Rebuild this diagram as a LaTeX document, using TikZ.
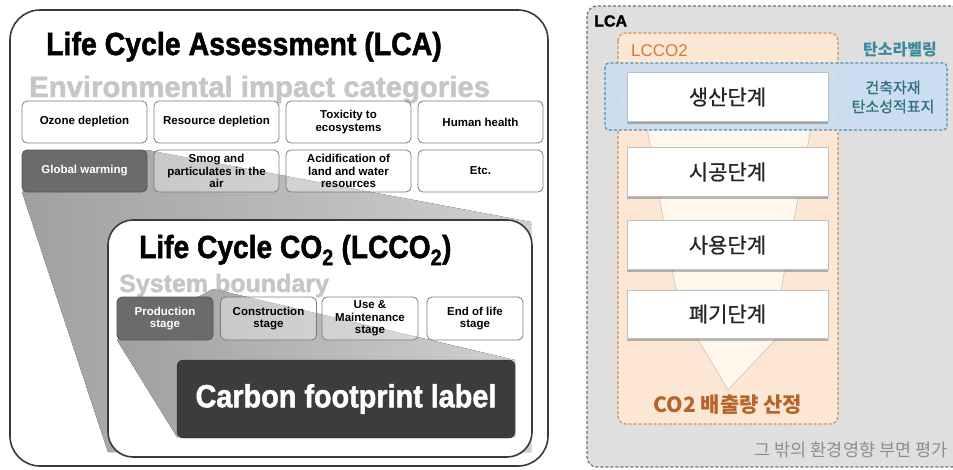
\documentclass[tikz,border=0pt]{standalone}
\usepackage{fontspec}
\setmainfont{Liberation Sans}
\newfontfamily\heavy{Liberation Sans}[BoldFeatures={FakeBold=1.6}]
\newfontfamily\kr{Noto Sans CJK KR}
\newfontfamily\krm{Noto Sans CJK KR}[FakeBold=0.7]
\usetikzlibrary{shadows}
\definecolor{boxline}{HTML}{7A7A7A}
\definecolor{darkbox}{HTML}{6B6B6B}
\definecolor{lblbox}{HTML}{3C3C3C}
\definecolor{headgray}{HTML}{C6C6C6}
\definecolor{framegray}{HTML}{3A3A3A}
\definecolor{panelgray}{HTML}{DFDFDF}
\definecolor{panelline}{HTML}{6E6E6E}
\definecolor{peach}{HTML}{FCE7D4}
\definecolor{orangeline}{HTML}{E08A4A}
\definecolor{orangetxt}{HTML}{D27A3C}
\definecolor{co2txt}{HTML}{B5652C}
\definecolor{bluefill}{HTML}{C9DDF1}
\definecolor{blueline}{HTML}{4A90B8}
\definecolor{tealtxt}{HTML}{3A8C9C}
\definecolor{tealdark}{HTML}{2F6F86}
\definecolor{krgray}{HTML}{8E8E8E}
\definecolor{funnelfill}{HTML}{FFF6EC}
\definecolor{funnelline}{HTML}{D2C6BA}
\definecolor{wedgeA}{HTML}{A0A0A0}
\definecolor{wedgeB}{HTML}{D0D0D0}
\begin{document}
\begin{tikzpicture}[x=1pt,y=-1pt,
  cat/.style={draw=boxline, line width=0.8pt, rounded corners=5pt, fill=white,
    fill opacity=0.35, text opacity=1, minimum width=125pt, minimum height=42pt,
    inner sep=1pt, align=center, font=\bfseries\fontsize{11.5}{12.5}\selectfont},
  catdark/.style={cat, fill=darkbox, fill opacity=1, draw=darkbox!80!black, text=white},
  stagebox/.style={cat, minimum width=96pt, minimum height=43pt},
  stagedark/.style={catdark, minimum width=96pt, minimum height=43pt},
  krbox/.style={draw=black!25, fill=white, minimum width=201pt, minimum height=49pt,
    font=\krm\fontsize{21}{24}\selectfont, text=black!85,
    drop shadow={shadow xshift=0pt, shadow yshift=-2.5pt, opacity=0.45, fill=black!60}},
  frame/.style={draw=framegray, line width=1.6pt},
  dashedframe/.style={dash pattern=on 3pt off 2pt, line width=1.2pt},
]
\useasboundingbox (0,0) rectangle (953,469);
\clip (0,0) rectangle (953,469);

% ================= LEFT PANEL =================
\draw[frame, rounded corners=30pt, fill=white] (10,10) rectangle (548,466);

\node[anchor=base west, inner sep=0pt, font=\heavy\bfseries\fontsize{32}{34}\selectfont] (lcatitle)
  at (46,55) {\scalebox{0.89}[1]{Life Cycle Assessment (LCA)}};
\node[anchor=base west, inner sep=0pt, text=headgray, font=\heavy\bfseries\fontsize{29.3}{30}\selectfont] (envtitle)
  at (29,97) {Environmental impact categories};

% wedge from Global warming to LCCO2
\fill[left color=wedgeA, right color=wedgeB] (22,192) -- (147,150) -- (531,222) -- (531,452) -- (108,452) -- cycle;

% category boxes
\node[cat] (ozone) at (84.5,122) {Ozone depletion};
\node[cat] (resource) at (216.5,122) {Resource depletion};
\node[cat] (toxicity) at (348.5,122) {Toxicity to\\ecosystems};
\node[cat] (health) at (480.5,122) {Human health};
\node[catdark] (global) at (84.5,171) {Global warming};
\node[cat] (smog) at (216.5,171) {Smog and\\particulates in the\\air};
\node[cat] (acid) at (348.5,171) {Acidification of\\land and water\\resources};
\node[cat] (etc) at (480.5,171) {Etc.};

% LCCO2 box
\draw[frame, rounded corners=25pt, fill=white] (108,220) rectangle (532,457);
\node[anchor=base west, inner sep=0pt, font=\heavy\bfseries\fontsize{32}{34}\selectfont] (lccotitle)
  at (139,258) {\scalebox{0.88}[1]{Life Cycle CO\textsubscript{2} (LCCO\textsubscript{2})}};
\node[anchor=base west, inner sep=0pt, text=headgray, font=\heavy\bfseries\fontsize{25}{27}\selectfont] (sysb)
  at (119,292) {System boundary};

% wedge from Production stage to label
\fill[left color=wedgeA, right color=wedgeB] (117,340) -- (213,289) -- (515,360) -- (515,437) -- (177,437) -- cycle;

\node[stagedark] (prod) at (165,318.5) {Production\\stage};
\node[stagebox] (constr) at (268.5,318.5) {Construction\\stage};
\node[stagebox] (use) at (370,318.5) {Use \&\\Maintenance\\stage};
\node[stagebox] (eol) at (475,318.5) {End of life\\stage};

\node[draw=lblbox!80!black, fill=lblbox, rounded corners=6pt, minimum width=338pt, minimum height=78pt,
  text=white, font=\heavy\bfseries\fontsize{32}{34}\selectfont] (label) at (346,399)
  {\scalebox{0.9}[1]{Carbon footprint label}};

% ================= RIGHT PANEL =================
\draw[dashedframe, draw=panelline, fill=panelgray, rounded corners=10pt] (587,6) rectangle (962,467);
\node[anchor=west, inner sep=0pt, font=\heavy\bfseries\fontsize{16}{18}\selectfont] (lcalbl) at (594,21) {LCA};

\draw[dashedframe, draw=orangeline, fill=peach, rounded corners=8pt] (618,33) rectangle (838,424);
\node[anchor=west, inner sep=0pt, text=orangetxt, font=\fontsize{17}{19}\selectfont] (lccolbl) at (631,51) {LCCO2};

% funnel
\draw[fill=funnelfill, draw=funnelline, line width=0.7pt]
  (646,122) -- (812,122) -- (782,285) -- (777,338) -- (728,390) -- (697,338) -- (675,285) -- cycle;

% carbon labelling band
\draw[dashedframe, draw=blueline, fill=bluefill, fill opacity=0.9, rounded corners=4pt] (605,63) rectangle (947,130);
\node[text=tealtxt, font=\kr\bfseries\fontsize{16}{18}\selectfont] (klabel) at (900,50) {탄소라벨링};
\node[text=tealdark, align=center, font=\krm\fontsize{15}{19}\selectfont] (kmark) at (893,97) {건축자재\\탄소성적표지};

% stage boxes
\node[krbox] (s1) at (727.5,97) {생산단계};
\node[krbox] (s2) at (727.5,172) {시공단계};
\node[krbox] (s3) at (727.5,245) {사용단계};
\node[krbox, minimum height=48pt] (s4) at (727.5,314) {폐기단계};

\node[text=co2txt, font=\kr\bfseries\fontsize{21}{23}\selectfont] (co2) at (728,405) {CO2 배출량 산정};
\node[anchor=east, text=krgray, font=\kr\fontsize{17.5}{19}\selectfont] (other) at (951,450) {그 밖의 환경영향 부면 평가};
\end{tikzpicture}
\end{document}
